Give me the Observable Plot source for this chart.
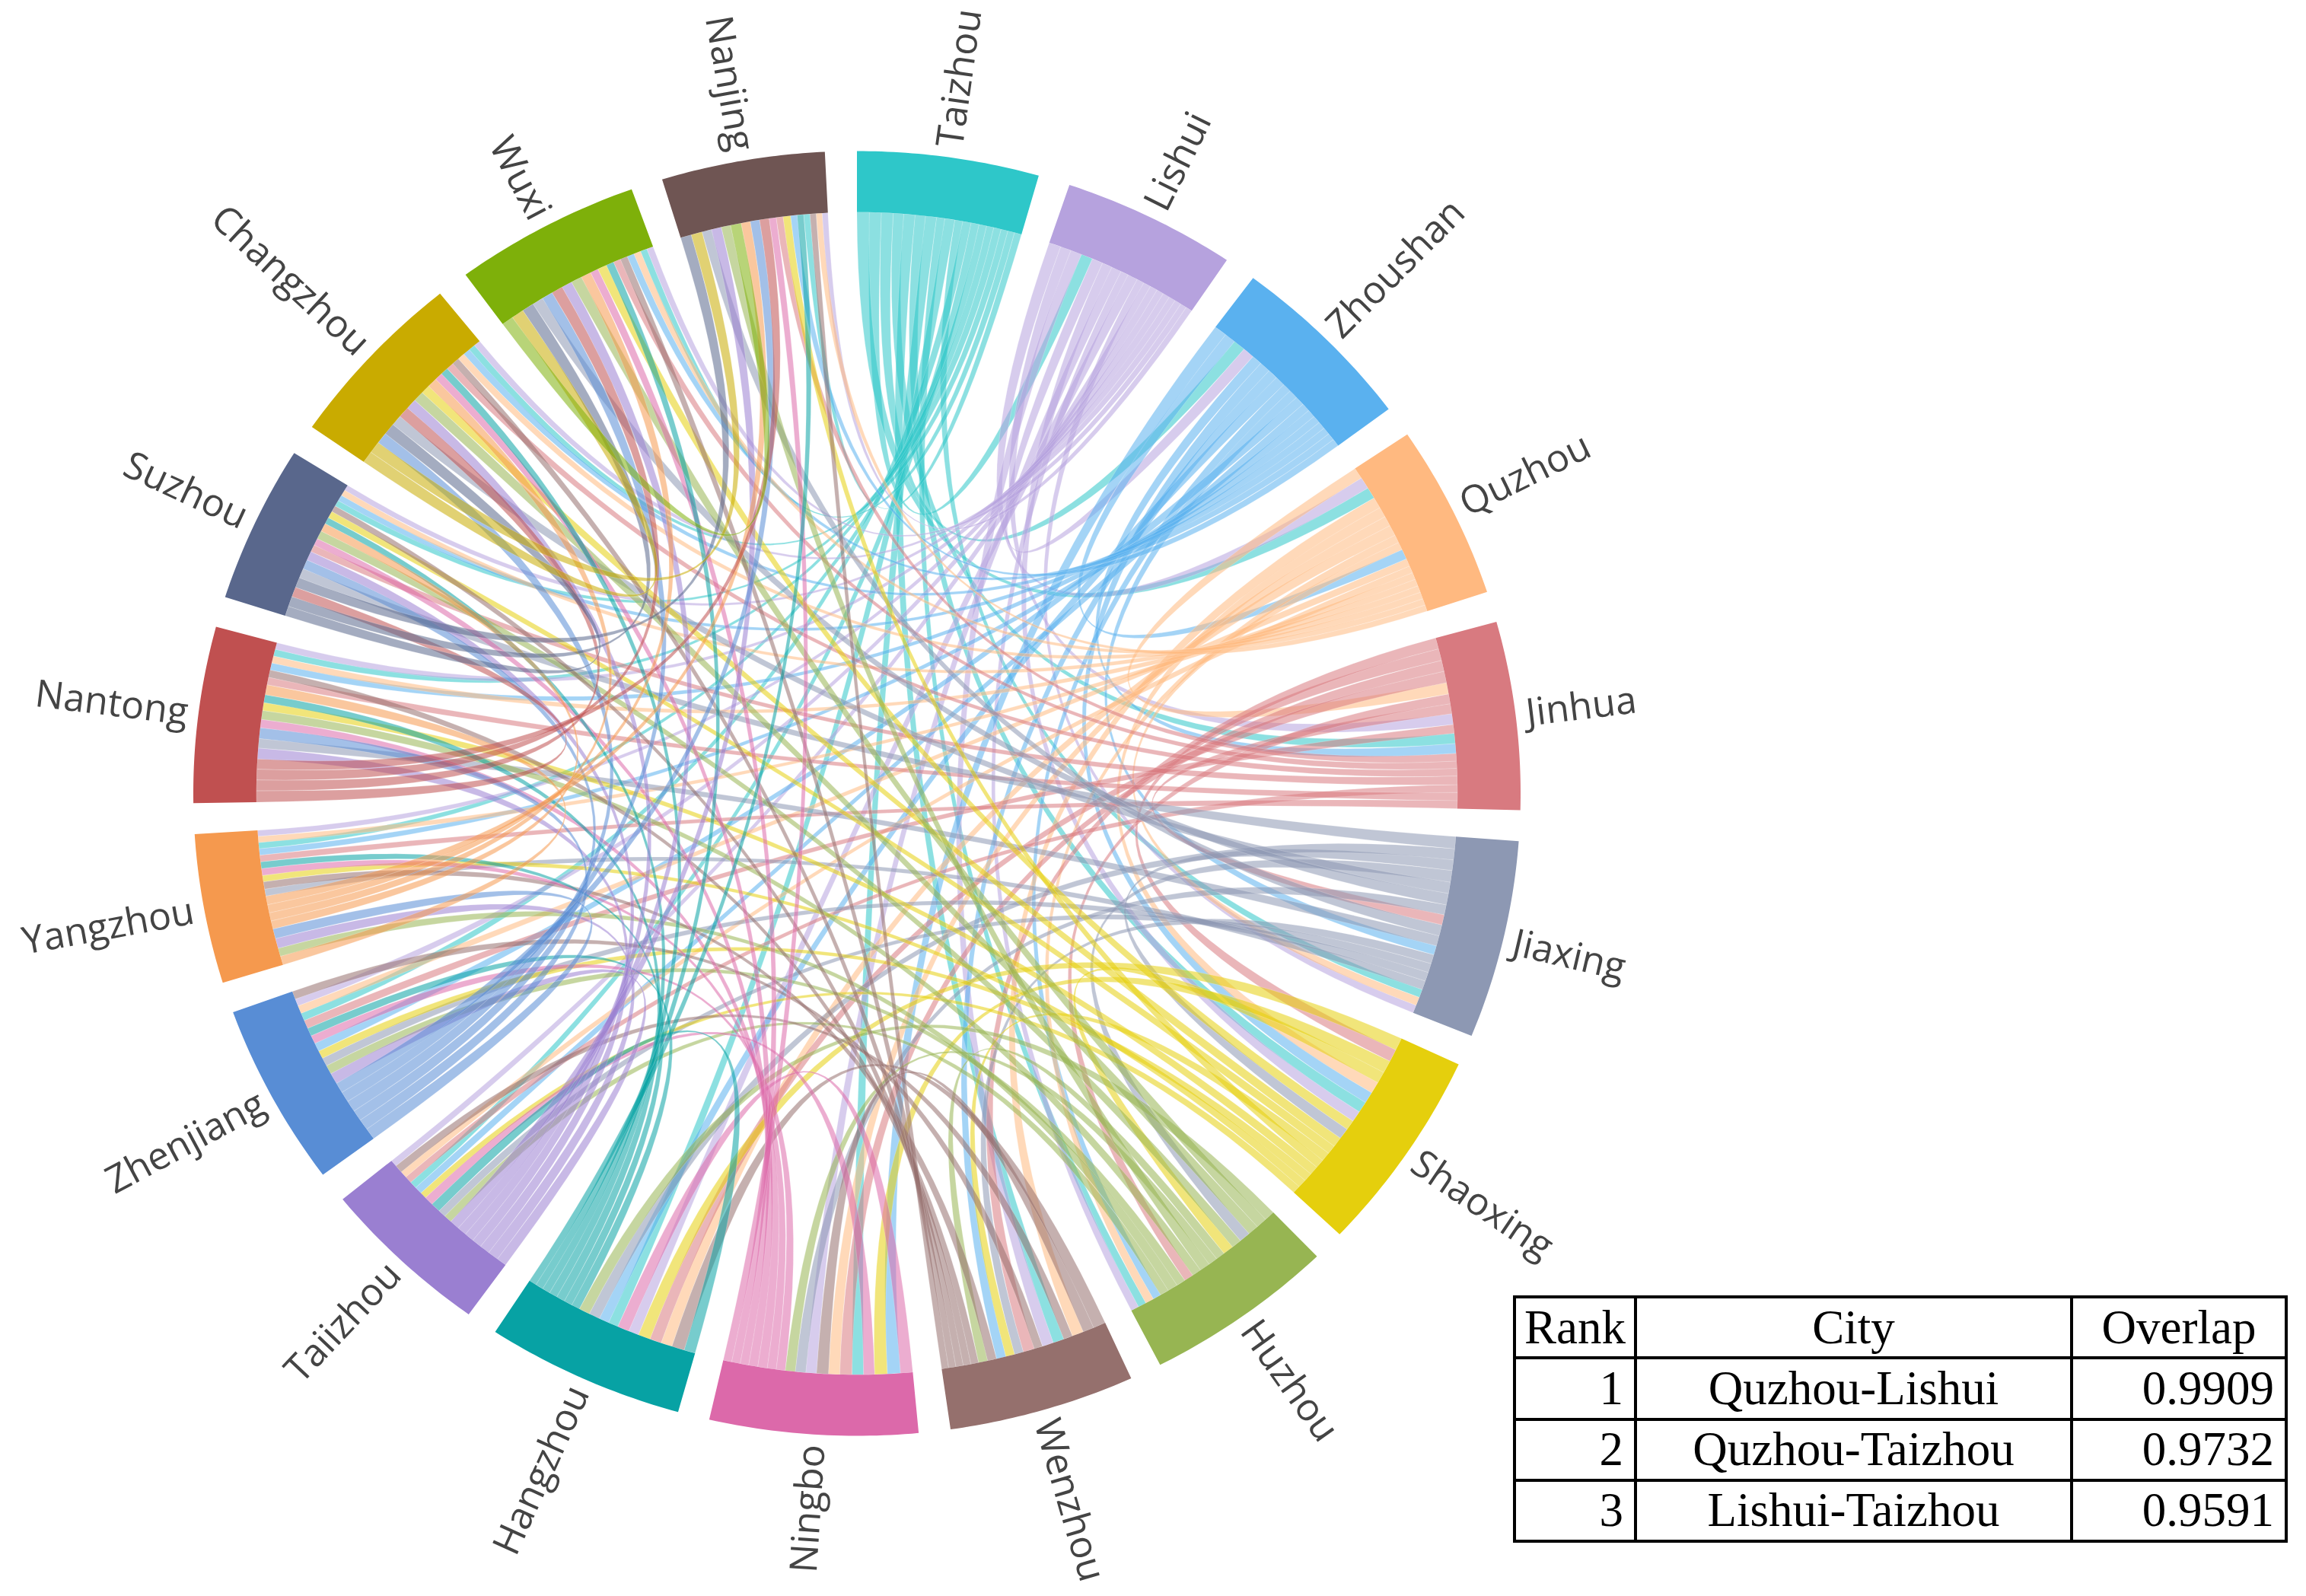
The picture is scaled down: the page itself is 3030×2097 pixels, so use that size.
<!DOCTYPE html>
<html>
<head>
<meta charset="utf-8">
<script src="https://cdn.jsdelivr.net/npm/d3@7"></script>
<script src="https://cdn.jsdelivr.net/npm/@observablehq/plot@0.6"></script>
<style>
html,body{margin:0;padding:0;background:#fff;}
#wrap{position:relative;width:3030px;height:2097px;overflow:hidden;}
table{position:absolute;left:1988px;top:1702px;width:1014px;height:325px;border-collapse:collapse;table-layout:fixed;
  font-family:"Liberation Serif",serif;font-size:63px;color:#000;}
th,td{border:4px solid #000;font-weight:normal;padding:0 14px;line-height:1;white-space:nowrap;text-align:center;}
th:first-child{padding:0 2px;}
td.r{text-align:right;}
</style>
</head>
<body>
<div id="wrap"></div>
<script>
// Cities, clockwise from 12 o'clock
const cities = ["Taizhou","Lishui","Zhoushan","Quzhou","Jinhua","Jiaxing","Shaoxing","Huzhou","Wenzhou","Ningbo","Hangzhou","Taiizhou","Zhenjiang","Yangzhou","Nantong","Suzhou","Changzhou","Wuxi","Nanjing"];
const palette = ["#2ec7c9","#b6a2de","#5ab1ef","#ffb980","#d87a80","#8d98b3","#e5cf0d","#97b552","#95706d","#dc69aa","#07a2a4","#9a7fd1","#588dd5","#f5994e","#c05050","#59678c","#c9ab00","#7eb00a","#6f5553"];
// Total weight of each city's arc
const cityTotals = [15.9,15.2,16.6,15.7,17.0,17.9,18.4,16.7,16.3,18.2,17.4,15.0,16.5,13.5,15.9,14.2,16.3,16.3,14.3];
// Overlap of each city with every later city (upper triangle)
const overlapRows = [
 [.9591,.94,.9732,.83,.65,.84,.67,.88,.86,.78,.65,.65,.61,.58,.59,.55,.54,.55],
 [.90,.9909,.88,.62,.83,.65,.90,.80,.81,.61,.61,.58,.57,.55,.54,.52,.51],
 [.86,.80,.72,.86,.68,.77,.98,.78,.67,.71,.62,.61,.58,.57,.57,.58],
 [.94,.65,.88,.68,.93,.84,.88,.62,.64,.59,.59,.57,.58,.55,.52],
 [.81,.97,.78,.90,.90,.91,.64,.70,.64,.64,.70,.61,.59,.61],
 [.84,.91,.72,.78,.86,.71,.70,.68,.80,.94,.88,.88,.86],
 [.88,.70,.94,.94,.59,.65,.62,.67,.67,.74,.74,.65],
 [.74,.75,.86,.71,.74,.81,.75,.81,.87,.88,.83],
 [.88,.99,.72,.67,.71,.62,.61,.59,.58,.54],
 [.91,.81,.68,.67,.71,.68,.64,.64,.62],
 [.87,.67,.65,.67,.64,.62,.61,.57],
 [.91,.96,.91,.87,.86,.84,.87],
 [.96,.90,.90,.93,.88,.83],
 [.84,.80,.80,.80,.81],
 [.97,.91,.90,.84],
 [.96,.96,.96],
 [.99,.97],
 [.93]
];
// Partner sequence along each city's arc, clockwise
const partnerOrder = [
 [3,1,2,4,8,6,9,7,10,5,12,11,13,14,15,16,17,18],
 [3,4,8,0,2,6,9,7,10,5,11,12,13,14,15,16,17,18],
 [9,3,0,1,4,6,8,10,7,5,12,11,13,14,15,16,17,18],
 [4,1,0,8,6,9,10,7,5,2,12,11,13,14,15,16,17,18],
 [8,6,9,10,3,7,5,1,12,0,2,18,17,16,15,11,14,13],
 [15,10,6,7,16,17,9,4,18,14,2,8,11,12,13,0,3,1],
 [10,4,9,7,3,2,0,1,17,5,16,15,8,18,14,12,13,11],
 [10,17,16,5,15,6,8,9,18,14,4,12,13,11,2,3,0,1],
 [10,9,3,11,0,1,12,4,5,6,2,13,7,14,15,16,17,18],
 [10,2,6,11,0,4,3,8,1,5,7,12,13,14,15,16,17,18],
 [11,8,3,4,6,1,9,0,2,5,7,12,13,14,15,16,17,18],
 [12,13,14,15,16,17,18,7,5,10,9,6,2,0,4,3,8,1],
 [13,14,15,16,17,18,11,7,5,6,2,9,10,4,0,3,1,8],
 [14,7,11,12,15,16,17,18,5,8,6,9,10,4,2,0,3,1],
 [15,16,17,18,11,5,12,9,7,6,10,13,4,8,2,3,0,1],
 [16,17,14,18,5,12,11,4,9,7,13,10,6,8,0,2,3,1],
 [17,18,12,15,5,14,11,7,6,13,9,10,4,8,3,2,0,1],
 [18,16,15,5,12,14,11,7,13,9,6,10,4,8,2,3,0,1],
 [15,16,5,11,7,17,13,12,14,9,4,6,2,10,0,8,3,1]
];
// Table
const tableHead = ["Rank","City","Overlap"];
const tableRanks = [1,2,3];
const tablePairs = ["Quzhou-Lishui","Quzhou-Taizhou","Lishui-Taizhou"];
const tableOverlaps = ["0.9909","0.9732","0.9591"];

// Chord layout
const RAD = Math.PI/180;
const ringInner = 0.905, labelRadius = 1.016;
const n = cities.length;
const pad = (360 - d3.sum(cityTotals))/n;
const value = (i,j) => { const a=Math.min(i,j), b=Math.max(i,j); return overlapRows[a][b-a-1]; };
let cursor = 0;
const groups = cities.map((name,i)=>{ const g={i,name,a0:cursor,a1:cursor+cityTotals[i],mid:cursor+cityTotals[i]/2}; cursor+=cityTotals[i]+pad; return g; });
// angular span of each ribbon end
const ends = new Map();
groups.forEach(g=>{
  const row = partnerOrder[g.i];
  const sum = d3.sum(row,j=>value(g.i,j));
  let a = g.a0;
  row.forEach(j=>{ const w = value(g.i,j)/sum*(g.a1-g.a0); ends.set(g.i+"-"+j,[a,a+w]); a+=w; });
});
const pt = (deg,r)=>({x:Math.sin(deg*RAD)*r,y:Math.cos(deg*RAD)*r});
const ribbonPts = [];
for (let i=0;i<n;i++) for (let j=i+1;j<n;j++){
  const [s0,s1]=ends.get(i+"-"+j), [t0,t1]=ends.get(j+"-"+i);
  const id=i+"-"+j, city=cities[i];
  const add=p=>ribbonPts.push({id,city,x:p.x,y:p.y});
  const arc=(a,b)=>{ for(let k=0;k<=4;k++) add(pt(a+(b-a)*k/4,ringInner)); };
  const quad=(a,b)=>{ const P=pt(a,ringInner),Q=pt(b,ringInner);
    for(let k=1;k<40;k++){ const t=k/40,u=1-t; add({x:u*u*P.x+t*t*Q.x,y:u*u*P.y+t*t*Q.y}); } };
  arc(s0,s1); quad(s1,t0); arc(t0,t1); quad(t1,s0);
}
const ringPts = [];
groups.forEach(g=>{
  const steps=30;
  for(let k=0;k<=steps;k++){ const p=pt(g.a0+(g.a1-g.a0)*k/steps,1); ringPts.push({city:g.name,x:p.x,y:p.y}); }
  for(let k=steps;k>=0;k--){ const p=pt(g.a0+(g.a1-g.a0)*k/steps,ringInner); ringPts.push({city:g.name,x:p.x,y:p.y}); }
});
const labelData = groups.map(g=>{ const p=pt(g.mid,labelRadius); return {name:g.name,mid:g.mid,x:p.x,y:p.y,rot:g.mid<180?g.mid-90:g.mid-270}; });
const labelFont = {fontFamily:"'Open Sans',sans-serif",fontSize:50,fill:"#444",lineAnchor:"middle"};

const chart = Plot.plot({
  width:3030, height:2097,
  marginLeft:253.5, marginRight:1032.5, marginTop:198, marginBottom:211,
  x:{domain:[-1,1],axis:null},
  y:{domain:[-1,1],axis:null},
  color:{type:"ordinal",domain:cities,range:palette},
  style:{background:"#fff"},
  marks:[
    Plot.line(ribbonPts,{x:"x",y:"y",z:"id",fill:"city",fillOpacity:0.55,stroke:"#fff",strokeOpacity:0.2,strokeWidth:1,curve:"linear-closed"}),
    Plot.line(ringPts,{x:"x",y:"y",z:"city",fill:"city",stroke:"none",curve:"linear-closed"}),
    Plot.text(labelData.filter(d=>d.mid<180),{x:"x",y:"y",text:"name",rotate:"rot",textAnchor:"start",...labelFont}),
    Plot.text(labelData.filter(d=>d.mid>=180),{x:"x",y:"y",text:"name",rotate:"rot",textAnchor:"end",...labelFont})
  ]
});
const wrap=document.getElementById("wrap");
wrap.appendChild(chart);
const table=d3.select(wrap).append("table");
const cg=table.append("colgroup");
["159px","573px","282px"].forEach(w=>cg.append("col").style("width",w));
table.append("tr").selectAll("th").data(tableHead).join("th").text(d=>d);
tableRanks.forEach((r,i)=>{
  const tr=table.append("tr");
  tr.append("td").attr("class","r").text(r);
  tr.append("td").text(tablePairs[i]);
  tr.append("td").attr("class","r").text(tableOverlaps[i]);
});
</script>
</body>
</html>
